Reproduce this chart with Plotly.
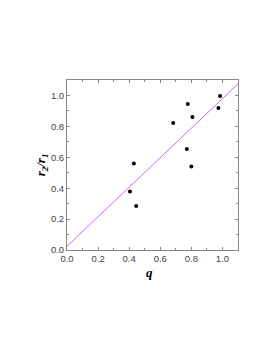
import plotly.graph_objects as go

q_vals = [0.405, 0.43, 0.445, 0.683, 0.771, 0.777, 0.80, 0.807, 0.974, 0.985]
r_ratio = [0.379, 0.56, 0.284, 0.822, 0.653, 0.945, 0.54, 0.861, 0.919, 0.997]
fit_x = [0.0, 1.1]
fit_y = [0.024, 1.075]
tick_vals = [0.0, 0.2, 0.4, 0.6, 0.8, 1.0]
tick_text = ["0.0", "0.2", "0.4", "0.6", "0.8", "1.0"]

fig = go.Figure()
fig.add_trace(go.Scatter(x=fit_x, y=fit_y, mode="lines",
                         line=dict(color="#CC66FF", width=1), showlegend=False))
fig.add_trace(go.Scatter(x=q_vals, y=r_ratio, mode="markers",
                         marker=dict(color="black", size=4), showlegend=False))

axis_common = dict(
    showgrid=False, zeroline=False, showline=True, linecolor="#888888", linewidth=1,
    mirror="ticks", ticks="inside", ticklen=3, tickcolor="#888888", tickwidth=1,
    tickfont=dict(family="Liberation Sans, Arial", size=9.5, color="#444444"),
    minor=dict(ticks="inside", ticklen=2, tickcolor="#888888", dtick=0.1),
)
fig.update_xaxes(range=[0, 1.1], tickvals=tick_vals, ticktext=tick_text, **axis_common)
fig.update_yaxes(range=[0, 1.1], tickvals=tick_vals, ticktext=tick_text, **axis_common)

fig.add_annotation(text="<b><i>q</i></b>", xref="paper", yref="paper", x=0.485, y=-0.13,
                   xanchor="center", yanchor="middle",
                   showarrow=False, font=dict(family="Liberation Serif, Times New Roman", size=13, color="black"))
fig.add_annotation(text="<b><i>r<sub>2</sub>/r<sub>1</sub></i></b>", xref="paper", yref="paper",
                   x=-0.15, y=0.50, xanchor="center", yanchor="middle", showarrow=False, textangle=-90,
                   font=dict(family="Liberation Serif, Times New Roman", size=13, color="black"))

fig.update_layout(width=273, height=353, margin=dict(l=59, r=43, t=72, b=111),
                  paper_bgcolor="white", plot_bgcolor="white")
fig.write_html("out.html")
